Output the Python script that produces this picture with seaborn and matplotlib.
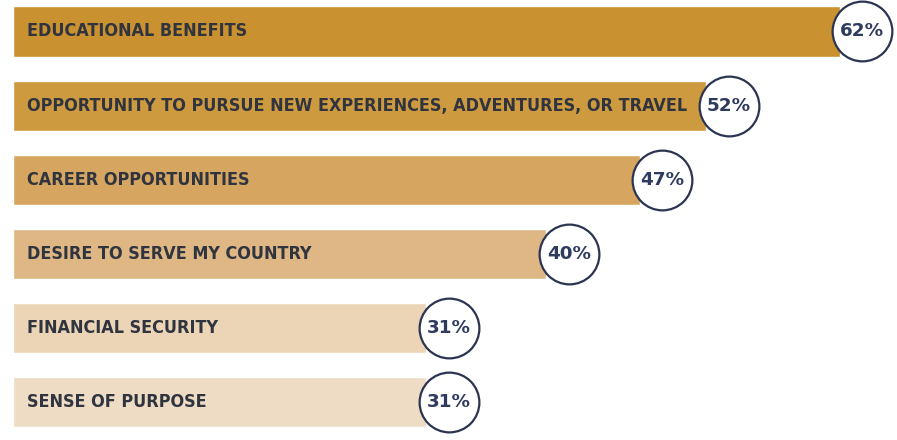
import matplotlib
matplotlib.use("Agg")
import matplotlib.pyplot as plt
import seaborn as sns
import pandas as pd

categories = [
    "EDUCATIONAL BENEFITS",
    "OPPORTUNITY TO PURSUE NEW EXPERIENCES, ADVENTURES, OR TRAVEL",
    "CAREER OPPORTUNITIES",
    "DESIRE TO SERVE MY COUNTRY",
    "FINANCIAL SECURITY",
    "SENSE OF PURPOSE",
]
values = [62, 52, 47, 40, 31, 31]
value_labels = ["62%", "52%", "47%", "40%", "31%", "31%"]
bar_colors = ["#C9912F", "#CE9A40", "#D6A660", "#DEB785", "#ECD4B6", "#EEDCC5"]

sns.set_theme(style="white")
plt.rcParams["font.family"] = ["DejaVu Sans"]

df = pd.DataFrame({"category": categories, "value": values})
df["marker_x"] = df["value"] + 1.7

fig = plt.figure(figsize=(8.97, 4.40), dpi=100)
ax = fig.add_axes([0, 0, 1, 1])

sns.barplot(data=df, x="value", y="category", hue="category",
            palette=bar_colors, orient="h", width=0.675, legend=False,
            ax=ax, saturation=1.0)

sns.scatterplot(data=df, x="marker_x", y="category", s=1850, color="white",
                edgecolor="#2B3450", linewidth=1.6, ax=ax, zorder=5, legend=False)

ax.set_xlim(-0.975, 66.3)
ax.set_ylim(5.513, -0.425)
ax.set_axis_off()

cat_texts, pct_texts = [], []
for i, (cat, lab, mx) in enumerate(zip(categories, value_labels, df["marker_x"])):
    cat_texts.append(ax.text(1.05, i, cat, va="center", ha="left", fontsize=13,
                             fontweight="bold", fontstretch="condensed", color="#30343E"))
    pct_texts.append(ax.text(mx, i, lab, va="center", ha="center", fontsize=13,
                             fontweight="bold", fontstretch="semi-condensed",
                             color="#2E3A5E", zorder=6))

# fit text widths to the reference's proportions
fig.canvas.draw()
r = fig.canvas.get_renderer()
w_cat = cat_texts[1].get_window_extent(r).width
cat_size = 13 * 660.0 / w_cat
for t in cat_texts:
    t.set_fontsize(cat_size)
w_pct = pct_texts[0].get_window_extent(r).width
pct_size = min(13 * 44.0 / w_pct, 13.5)
for t in pct_texts:
    t.set_fontsize(pct_size)

fig.savefig("out.png", dpi=100)
